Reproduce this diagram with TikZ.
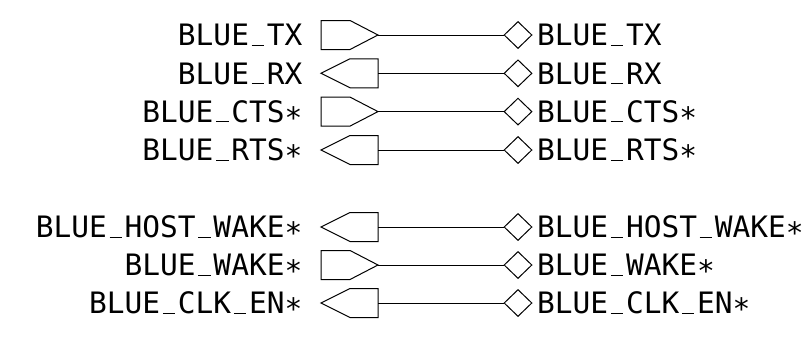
\documentclass[tikz,border=0pt]{standalone}
\usepackage{fontspec}
\newfontfamily\lblfont{DejaVu Sans Mono}
\usetikzlibrary{shapes.geometric}
\newcommand\stx{\raisebox{-0.2em}{*}}
\newcommand\usc{\makebox[0.602em][c]{\rule{0.42em}{1pt}}}
\tikzset{
  wire/.style={line width=1pt, black},
  lbl/.style={font=\lblfont\fontsize{29.5}{30}\selectfont, inner sep=0pt},
  pinmark/.style={draw, diamond, minimum width=28pt, minimum height=27pt, inner sep=0pt, line width=1pt},
}
\begin{document}
\begin{tikzpicture}[x=1pt,y=-1pt]
\useasboundingbox[fill=white] (0,0) rectangle (806,340);
\foreach \c/\lab/\d [count=\i] in {35/BLUE\usc TX/1, 73.3/BLUE\usc RX/0, 111.6/BLUE\usc CTS\stx/1, 150/BLUE\usc RTS\stx/0, 227/BLUE\usc HOST\usc WAKE\stx/0, 265/BLUE\usc WAKE\stx/1, 303/BLUE\usc CLK\usc EN\stx/0}{
  \node[lbl, anchor=base east] (l\i) at (302.5,\c+10.75) {\lab};
  \node[lbl, anchor=base west] (r\i) at (537,\c+10.75) {\lab};
  \node[pinmark] (d\i) at (518,\c) {};
  \coordinate (f\i) at (378,\c);
  \ifnum\d=1
    \draw[wire] (321,\c-14.5) -- (350,\c-14.5) -- (f\i) -- (350,\c+14.5) -- (321,\c+14.5) -- cycle;
  \else
    \draw[wire] (321,\c) -- (350,\c-14.5) -- (378,\c-14.5) -- (378,\c+14.5) -- (350,\c+14.5) -- cycle;
  \fi
  \draw[wire] (f\i) -- (d\i.west);
}
\end{tikzpicture}
\end{document}
